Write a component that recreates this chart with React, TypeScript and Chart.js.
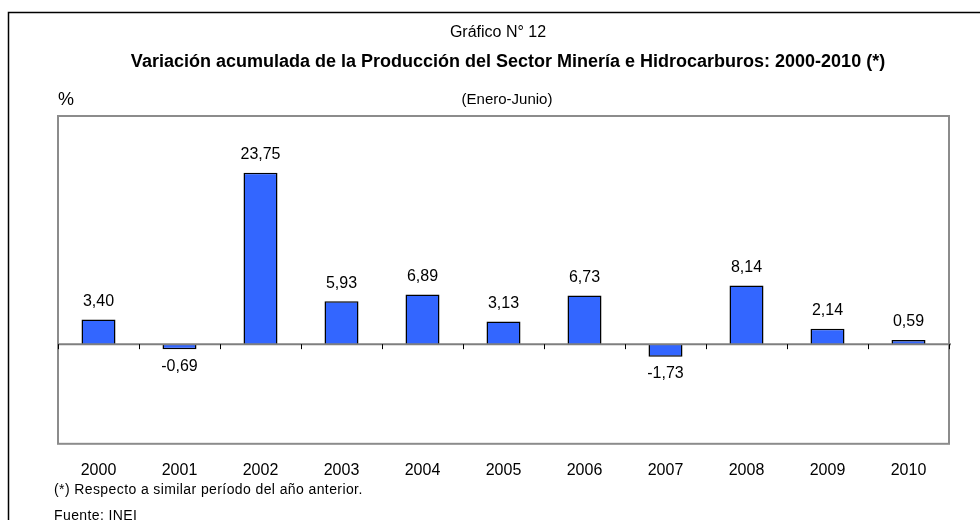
import React, { useEffect, useRef } from "react";
import { Chart, registerables } from "chart.js";

Chart.register(...registerables);

const categories = ["2000", "2001", "2002", "2003", "2004", "2005", "2006", "2007", "2008", "2009", "2010"];
const values = [3.4, -0.69, 23.75, 5.93, 6.89, 3.13, 6.73, -1.73, 8.14, 2.14, 0.59];
const valueLabels = ["3,40", "-0,69", "23,75", "5,93", "6,89", "3,13", "6,73", "-1,73", "8,14", "2,14", "0,59"];
const supTitle = "Gráfico N° 12";
const mainTitle = "Variación acumulada de la Producción del Sector Minería e Hidrocarburos: 2000-2010 (*)";
const subTitle = "(Enero-Junio)";
const unitLabel = "%";
const footnote = "(*) Respecto a similar período del año anterior.";
const source = "Fuente: INEI";
const yMin = -13.8;
const yMax = 31.6;

const FONT = "'Liberation Sans', Arial, sans-serif";

const decorPlugin = {
  id: "decor",
  beforeDraw(chart: any) {
    const ctx = chart.ctx;
    const { left, right, top, bottom } = chart.chartArea;
    ctx.save();
    ctx.fillStyle = "#ffffff";
    ctx.fillRect(0, 0, chart.width, chart.height);
    // outer frame (left & top visible)
    ctx.strokeStyle = "#000000";
    ctx.lineWidth = 1.5;
    ctx.beginPath();
    ctx.moveTo(8.5, chart.height + 5);
    ctx.lineTo(8.5, 12.5);
    ctx.lineTo(chart.width + 5, 12.5);
    ctx.stroke();
    // plot area frame
    ctx.strokeStyle = "#8c8c8c";
    ctx.lineWidth = 2;
    ctx.strokeRect(left, top, right - left, bottom - top);
    // texts
    ctx.fillStyle = "#000000";
    ctx.textAlign = "center";
    ctx.textBaseline = "middle";
    ctx.font = `16px ${FONT}`;
    ctx.fillText(supTitle, 498, 33);
    ctx.font = `bold 18px ${FONT}`;
    ctx.fillText(mainTitle, 508, 62);
    ctx.font = `15px ${FONT}`;
    ctx.fillText(subTitle, 507, 100);
    ctx.font = `18px ${FONT}`;
    ctx.fillText(unitLabel, 66, 100);
    ctx.textAlign = "left";
    ctx.font = `14px ${FONT}`;
    (ctx as any).letterSpacing = "0.4px";
    ctx.fillText(footnote, 54, 490);
    ctx.fillText(source, 54, 516);
    (ctx as any).letterSpacing = "0px";
    ctx.restore();
  },
  afterDatasetsDraw(chart: any) {
    const ctx = chart.ctx;
    const { left, right } = chart.chartArea;
    const yScale = chart.scales.y;
    const y0 = yScale.getPixelForValue(0);
    ctx.save();
    // zero axis with tick marks at category boundaries
    ctx.strokeStyle = "#7f7f7f";
    ctx.lineWidth = 2;
    ctx.beginPath();
    ctx.moveTo(left, y0);
    ctx.lineTo(right + 2, y0);
    ctx.stroke();
    ctx.lineWidth = 1;
    ctx.strokeStyle = "#000000";
    const n = categories.length;
    const step = (right - left) / n;
    ctx.beginPath();
    for (let i = 0; i <= n; i++) {
      const x = Math.round(left + i * step) + 0.5;
      ctx.moveTo(x, y0);
      ctx.lineTo(x, y0 + 5);
    }
    ctx.stroke();
    // data labels
    ctx.fillStyle = "#000000";
    ctx.font = `16px ${FONT}`;
    ctx.textAlign = "center";
    ctx.textBaseline = "middle";
    const meta = chart.getDatasetMeta(0);
    meta.data.forEach((bar: any, i: number) => {
      const v = values[i];
      const x = bar.x;
      const y = v >= 0 ? yScale.getPixelForValue(v) - 18 : yScale.getPixelForValue(v) + 17;
      ctx.fillText(valueLabels[i], x, y);
    });
    ctx.restore();
  },
};

export default function App() {
  const ref = useRef<HTMLCanvasElement>(null);
  useEffect(() => {
    document.body.style.margin = "0";
    const canvas = ref.current!;
    const chart = new Chart(canvas, {
      type: "bar",
      data: {
        labels: categories,
        datasets: [
          {
            data: values,
            backgroundColor: "#3366ff",
            borderColor: "#000000",
            borderWidth: 1.5,
            categoryPercentage: 1,
            barPercentage: 0.42,
          },
        ],
      },
      options: {
        responsive: false,
        animation: false,
        devicePixelRatio: 1,
        layout: { padding: { left: 58, right: 31, top: 116, bottom: 23 } },
        plugins: { legend: { display: false }, tooltip: { enabled: false }, title: { display: false } },
        scales: {
          x: {
            grid: { display: false, drawTicks: false },
            border: { display: false },
            ticks: { color: "#000000", font: { family: FONT, size: 16 }, padding: 17, maxRotation: 0 },
          },
          y: {
            display: false,
            min: yMin,
            max: yMax,
          },
        },
      },
      plugins: [decorPlugin],
    });
    return () => chart.destroy();
  }, []);
  return <canvas ref={ref} width={980} height={520} style={{ display: "block" }} />;
}
